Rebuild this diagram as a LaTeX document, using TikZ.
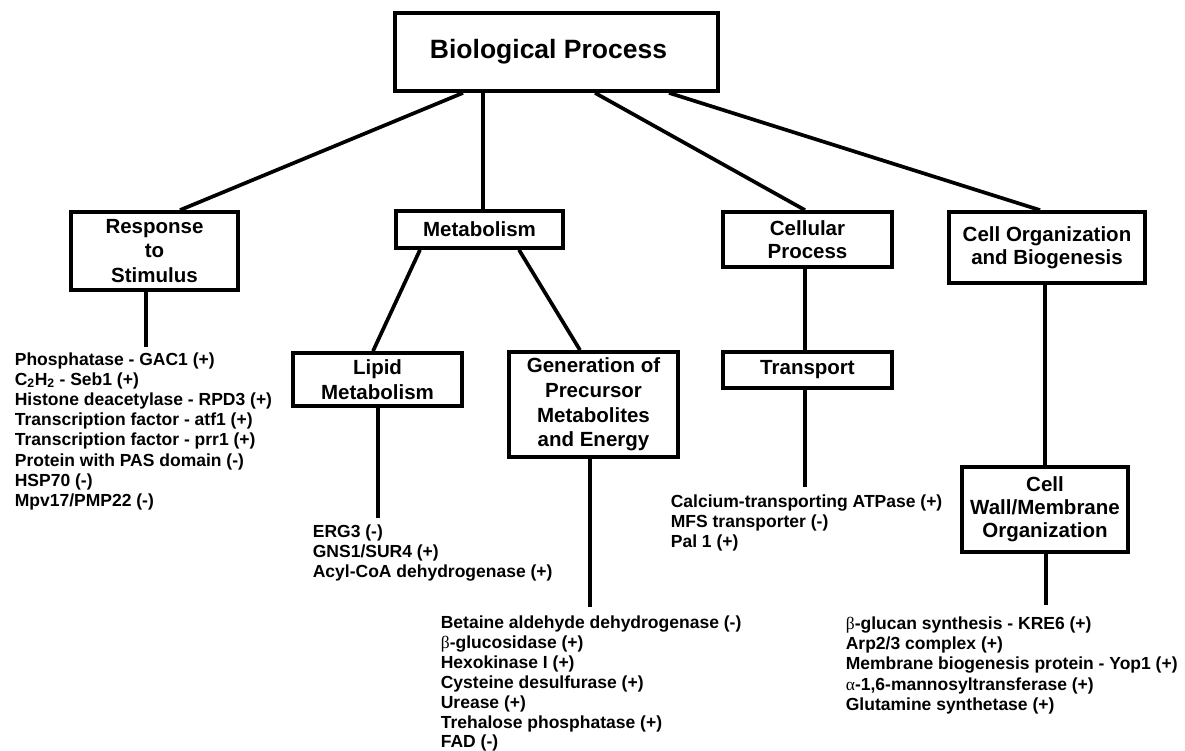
\documentclass[tikz,border=0pt]{standalone}
\usepackage{fontspec}
\setmainfont{Liberation Sans}
\newfontfamily\grk{Liberation Serif}
\usepackage{tikz}

\begin{document}
\begin{tikzpicture}[x = 1pt, y = -1pt, line width = 3.7pt,
    box/.style = {rectangle, draw, line width = 3.8pt, align = center, inner sep = 2pt,
        font = \fontsize{20.5}{22.8}\selectfont\bfseries},
    tallbox/.style = {box, font = \fontsize{20.5}{24.6}\selectfont\bfseries},
    list/.style = {anchor = north west, align = left, inner sep = 0pt,
        font = \fontsize{17.5}{20.2}\selectfont\bfseries}]
\useasboundingbox (0,0) rectangle (1185,751);
\draw (556.5,52) node[box, minimum width = 323pt, minimum height = 78pt,
        font = \fontsize{26.5}{28}\selectfont\bfseries](b1){\raisebox{6pt}{Biological Process\hspace*{16pt}}}
    (154.5,251) node[tallbox, minimum width = 167pt, minimum height = 78pt](b2){Response\\to\\Stimulus}
    (479.5,229.5) node[box, minimum width = 167pt, minimum height = 37pt](b3){Metabolism}
    (807.5,239.5) node[box, minimum width = 169pt, minimum height = 55pt](b4){Cellular\\Process}
    (1047,247.5) node[box, minimum width = 196pt, minimum height = 71pt](b5){Cell Organization\\and Biogenesis}
    (377.5,379.5) node[tallbox, minimum width = 169pt, minimum height = 53pt](b6){Lipid\\Metabolism}
    (593.5,404.5) node[tallbox, minimum width = 169pt, minimum height = 105pt](b7){Generation of\\Precursor\\Metabolites\\and Energy}
    (807.5,370) node[box, minimum width = 169pt, minimum height = 36pt](b8){\raisebox{-2pt}{Transport}}
    (1045,509.5) node[box, minimum width = 166pt, minimum height = 85pt](b9){Cell\\Wall/Membrane\\Organization};
% gene lists
\draw (13,350.5) node[list](l1){Phosphatase - GAC1 (+)\\C\textsubscript{2}H\textsubscript{2} - Seb1 (+)\\Histone deacetylase - RPD3 (+)\\Transcription factor - atf1 (+)\\Transcription factor - prr1 (+)\\Protein with PAS domain (-)\\HSP70 (-)\\Mpv17/PMP22 (-)}
    (311,523) node[list](l2){ERG3 (-)\\GNS1/SUR4 (+)\\Acyl-CoA dehydrogenase (+)}
    (439,614) node[list, font = \fontsize{17.5}{19.9}\selectfont\bfseries](l3){Betaine aldehyde dehydrogenase (-)\\{\grk\mdseries β}-glucosidase (+)\\Hexokinase I (+)\\Cysteine desulfurase (+)\\Urease (+)\\Trehalose phosphatase (+)\\FAD (-)}
    (669,492.5) node[list](l4){Calcium-transporting ATPase (+)\\MFS transporter (-)\\Pal 1 (+)}
    (844,615) node[list](l5){{\grk\mdseries β}-glucan synthesis - KRE6 (+)\\Arp2/3 complex (+)\\Membrane biogenesis protein - Yop1 (+)\\{\grk\mdseries α}-1,6-mannosyltransferase (+)\\Glutamine synthetase (+)};
% connectors
\draw [-] ([xshift=-93.5pt]b1.south) -- ([xshift=25.5pt]b2.north);
\draw [-] ([xshift=-73.5pt]b1.south) -- ([xshift=3.5pt]b3.north);
\draw [-] ([xshift=38.5pt]b1.south) -- ([xshift=-2.5pt]b4.north);
\draw [-] ([xshift=112.5pt]b1.south) -- ([xshift=-7pt]b5.north);
\draw [-] ([xshift=-59.5pt]b3.south) -- ([xshift=-4.5pt]b6.north);
\draw [-] ([xshift=39.5pt]b3.south) -- ([xshift=-13.5pt]b7.north);
\draw [-] ([xshift=-2.5pt]b4.south) -- ([xshift=-2.5pt]b8.north);
\draw [-] ([xshift=-2pt]b5.south) -- (b9.north);
\draw [-] ([xshift=-8.5pt]b2.south) -- ([xshift=133pt,yshift=3.5pt]l1.north west);
\draw [-] ([xshift=0.5pt]b6.south) -- ([xshift=67pt,yshift=5pt]l2.north west);
\draw [-] ([xshift=-3.5pt]b7.south) -- ([xshift=151pt,yshift=7pt]l3.north west);
\draw [-] ([xshift=-2.5pt]b8.south) -- ([xshift=136pt,yshift=5.5pt]l4.north west);
\draw [-] ([xshift=1pt]b9.south) -- ([xshift=202pt,yshift=10pt]l5.north west);
\end{tikzpicture}
\end{document}
